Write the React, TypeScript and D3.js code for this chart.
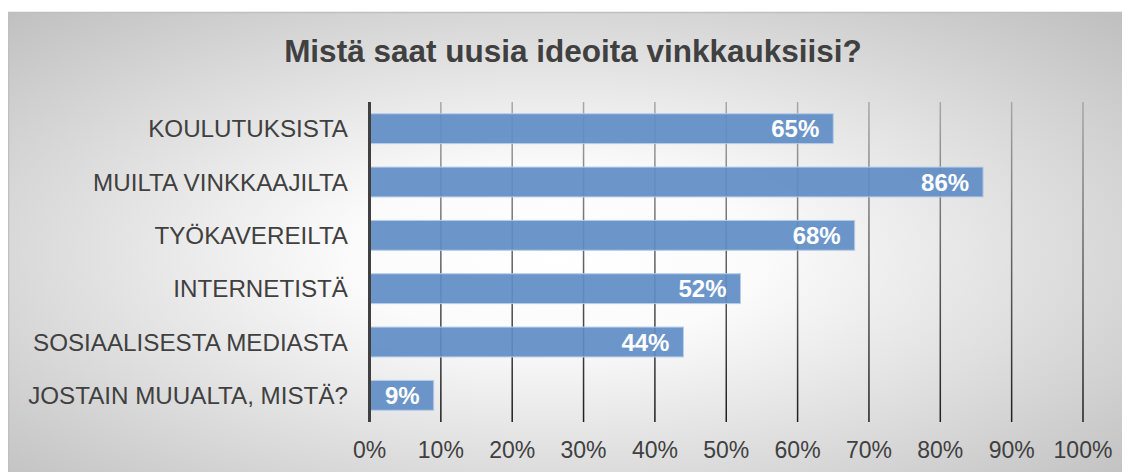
import React from "react";
import * as d3 from "d3";

const title = "Mistä saat uusia ideoita vinkkauksiisi?";
const categories = [
  "KOULUTUKSISTA",
  "MUILTA VINKKAAJILTA",
  "TYÖKAVEREILTA",
  "INTERNETISTÄ",
  "SOSIAALISESTA MEDIASTA",
  "JOSTAIN MUUALTA, MISTÄ?",
];
const values = [65, 86, 68, 52, 44, 9];
const tickValues = [0, 10, 20, 30, 40, 50, 60, 70, 80, 90, 100];

const W = 1122;
const H = 464;
const FONT = "'Liberation Sans', Arial, sans-serif";

export default function App() {
  const x = d3.scaleLinear().domain([0, 100]).range([361.5, 1075]);
  const y = d3.scaleBand<string>().domain(categories).range([94, 414]).paddingInner(0.44).paddingOuter(0.22);

  return (
    <svg width={W} height={H} style={{ display: "block" }}>
      <defs>
        <radialGradient id="bg" cx="48%" cy="50%" r="72%">
          <stop offset="0" stopColor="#ffffff" />
          <stop offset="0.25" stopColor="#fbfbfb" />
          <stop offset="1" stopColor="#bdbdbd" />
        </radialGradient>
        <linearGradient id="grid" x1="0" y1="0" x2="0" y2="1">
          <stop offset="0" stopColor="#a8a8a8" />
          <stop offset="1" stopColor="#1e1e1e" />
        </linearGradient>
      </defs>
      <rect x={0.5} y={4.5} width={W + 20} height={H + 20} fill="url(#bg)" stroke="#bfbfbf" strokeWidth={1.5} />
      <text x={565} y={54} textAnchor="middle" fontFamily={FONT} fontWeight="bold" fontSize={31.5} fill="#404040">
        {title}
      </text>
      {tickValues.slice(1).map((t) => (
        <rect key={t} x={x(t) - 0.75} y={94} width={1.5} height={320} fill="url(#grid)" />
      ))}
      {categories.map((c, i) => (
        <g key={c}>
          <rect
            x={x(0)}
            y={y(c)!}
            width={x(values[i]) - x(0)}
            height={y.bandwidth()}
            fill="#5f8dc5"
            fillOpacity={0.92}
            stroke="#b7cde8"
            strokeWidth={1}
          />
          <text
            x={x(values[i]) - 14}
            y={y(c)! + y.bandwidth() / 2 + 8.5}
            textAnchor="end"
            fontFamily={FONT}
            fontWeight="bold"
            fontSize={24}
            fill="#ffffff"
          >
            {values[i]}%
          </text>
          <text
            x={340}
            y={y(c)! + y.bandwidth() / 2 + 8.5}
            textAnchor="end"
            fontFamily={FONT}
            fontSize={24.2}
            fill="#404040"
          >
            {c}
          </text>
        </g>
      ))}
      <line x1={x(0)} x2={x(0)} y1={94} y2={414} stroke="#404040" strokeWidth={3} />
      {tickValues.map((t) => (
        <text key={t} x={x(t)} y={450} textAnchor="middle" fontFamily={FONT} fontSize={23} fill="#404040">
          {t}%
        </text>
      ))}
    </svg>
  );
}
